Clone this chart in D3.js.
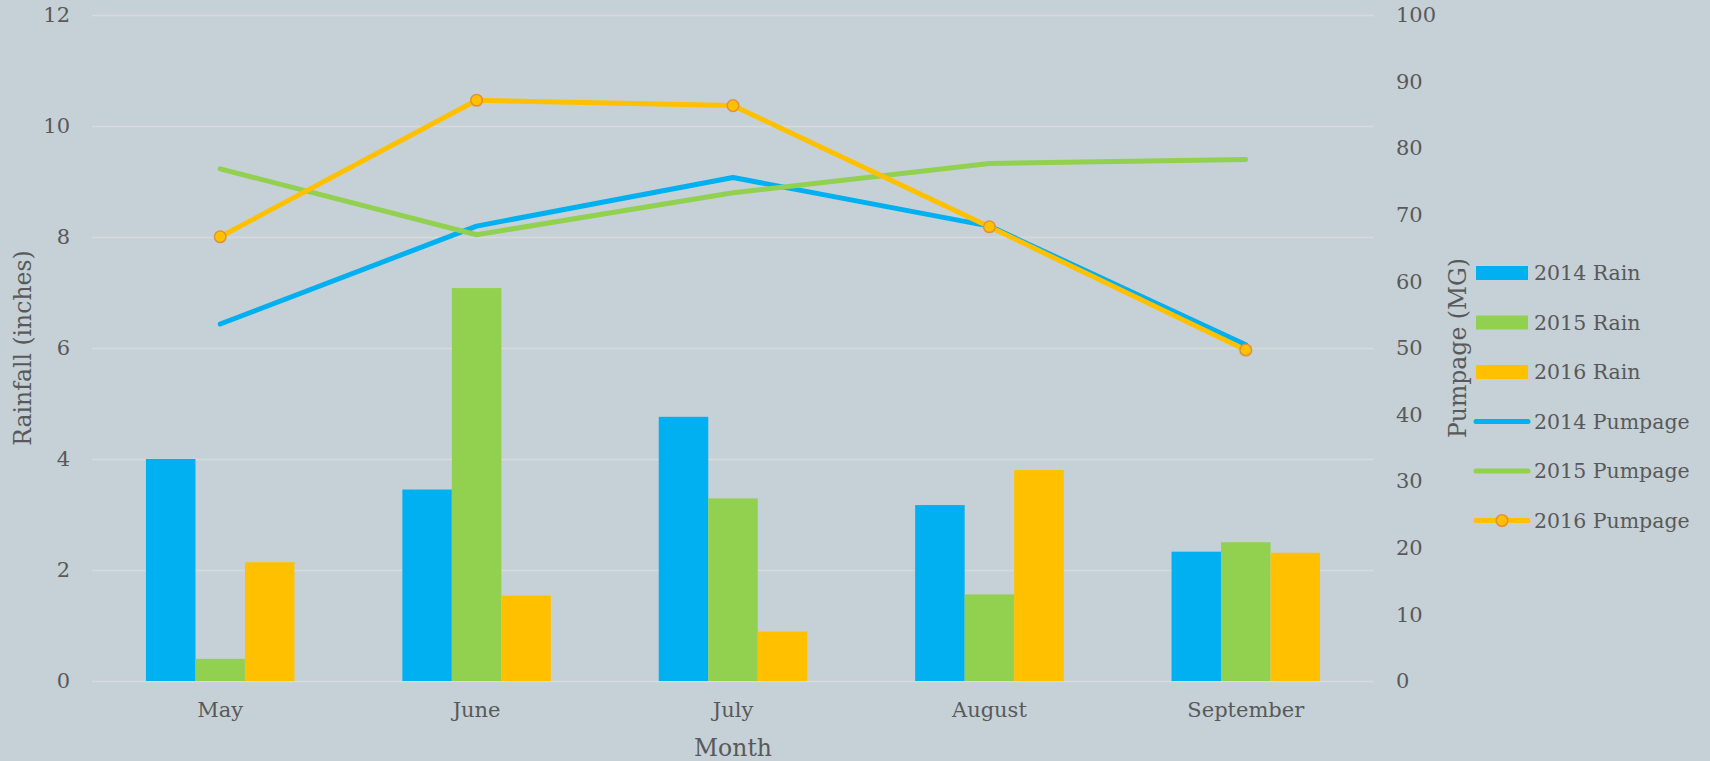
<!DOCTYPE html>
<html>
<head>
<meta charset="utf-8">
<script src="https://cdn.jsdelivr.net/npm/d3@7"></script>
<style>
  html, body { margin: 0; padding: 0; background: #c5d1d7; }
  svg { display: block; }
  text { font-family: "DejaVu Serif", serif; fill: #595959; }
</style>
</head>
<body>
<svg id="chart" width="1710" height="761"></svg>
<script>
const months = ["May", "June", "July", "August", "September"];
const rainSeries = ["2014 Rain", "2015 Rain", "2016 Rain"];
const rain2014 = [4.00, 3.45, 4.76, 3.17, 2.33];
const rain2015 = [0.40, 7.08, 3.29, 1.56, 2.50];
const rain2016 = [2.14, 1.54, 0.89, 3.80, 2.31];
const pumpSeries = ["2014 Pumpage", "2015 Pumpage", "2016 Pumpage"];
const pump2014 = [53.6, 68.3, 75.6, 68.3, 50.5];
const pump2015 = [76.9, 67.0, 73.3, 77.7, 78.3];
const pump2016 = [66.7, 87.2, 86.4, 68.2, 49.7];
const leftTicks = [0, 2, 4, 6, 8, 10, 12];
const rightTicks = [0, 10, 20, 30, 40, 50, 60, 70, 80, 90, 100];
const colors = ["#00b0f0", "#92d050", "#ffc000"];

const rainData = [rain2014, rain2015, rain2016];
const pumpData = [pump2014, pump2015, pump2016];

const svg = d3.select("#chart");
const L = 92, R = 1374, T = 15, B = 681;

svg.append("rect").attr("width", 1710).attr("height", 761).attr("fill", "#c5d1d7");

const x = d3.scaleBand().domain(months).range([L, R]).padding(0);
const groupW = 148.5;
const xs = d3.scaleBand().domain(rainSeries).range([-groupW / 2, groupW / 2]).padding(0);
const yL = d3.scaleLinear().domain([0, 12]).range([B, T]);
const yR = d3.scaleLinear().domain([0, 100]).range([B, T]);

// left axis with gridlines
const gL = svg.append("g").attr("transform", `translate(${L},0)`)
  .call(d3.axisLeft(yL).tickValues(leftTicks).tickSize(-(R - L)).tickPadding(22));
gL.select(".domain").remove();
gL.selectAll(".tick line").attr("stroke", "#d9d9d9").attr("stroke-width", 1.5);
gL.selectAll(".tick text").style("font-size", "21px").attr("fill", "#595959");

// right axis
const gR = svg.append("g").attr("transform", `translate(${R},0)`)
  .call(d3.axisRight(yR).tickValues(rightTicks).tickSize(0).tickPadding(22));
gR.select(".domain").remove();
gR.selectAll(".tick text").style("font-size", "21px").attr("fill", "#595959");

// bottom axis
const gB = svg.append("g").attr("transform", `translate(0,${B})`)
  .call(d3.axisBottom(x).tickSize(0).tickPadding(21));
gB.select(".domain").remove();
gB.selectAll(".tick text").style("font-size", "21px").attr("fill", "#595959");

// bars
rainSeries.forEach((s, si) => {
  svg.append("g").selectAll("rect")
    .data(rainData[si])
    .join("rect")
    .attr("x", (d, i) => x(months[i]) + x.bandwidth() / 2 + xs(s))
    .attr("width", xs.bandwidth())
    .attr("y", d => yL(d))
    .attr("height", d => yL(0) - yL(d))
    .attr("fill", colors[si]);
});

// axis titles (drawn before lines/legend)
svg.append("text")
  .attr("transform", "translate(30.5,348) rotate(-90)")
  .attr("text-anchor", "middle")
  .style("font-size", "23.5px")
  .text("Rainfall (inches)");
svg.append("text")
  .attr("transform", "translate(1466,348) rotate(-90)")
  .attr("text-anchor", "middle")
  .style("font-size", "23.5px")
  .text("Pumpage (MG)");
svg.append("text")
  .attr("x", 733).attr("y", 756)
  .attr("text-anchor", "middle")
  .style("font-size", "23.5px")
  .text("Month");

// lines
const line = d3.line()
  .x((d, i) => x(months[i]) + x.bandwidth() / 2)
  .y(d => yR(d));
pumpSeries.forEach((s, si) => {
  svg.append("path")
    .datum(pumpData[si])
    .attr("d", line)
    .attr("fill", "none")
    .attr("stroke", colors[si])
    .attr("stroke-width", 5)
    .attr("stroke-linejoin", "round")
    .attr("stroke-linecap", "round");
});
// markers for 2016 pumpage
svg.append("g").selectAll("circle")
  .data(pump2016)
  .join("circle")
  .attr("cx", (d, i) => x(months[i]) + x.bandwidth() / 2)
  .attr("cy", d => yR(d))
  .attr("r", 5.8)
  .attr("fill", "#ffc000")
  .attr("stroke", "#e0913a")
  .attr("stroke-width", 1.5);

// legend
const legendItems = rainSeries.concat(pumpSeries);
const lg = svg.append("g");
legendItems.forEach((name, i) => {
  const cy = 273 + i * 49.5;
  const ci = i % 3;
  if (i < 3) {
    lg.append("rect").attr("x", 1476).attr("y", cy - 7).attr("width", 52).attr("height", 14).attr("fill", colors[ci]);
  } else {
    lg.append("line").attr("x1", 1476).attr("x2", 1528).attr("y1", cy).attr("y2", cy)
      .attr("stroke", colors[ci]).attr("stroke-width", 5).attr("stroke-linecap", "round");
    if (i === 5) {
      lg.append("circle").attr("cx", 1502).attr("cy", cy).attr("r", 5.8)
        .attr("fill", "#ffc000").attr("stroke", "#e0913a").attr("stroke-width", 1.5);
    }
  }
  lg.append("text").attr("x", 1534).attr("y", cy).attr("dy", "0.35em")
    .style("font-size", "20.5px").text(name);
});
</script>
</body>
</html>
